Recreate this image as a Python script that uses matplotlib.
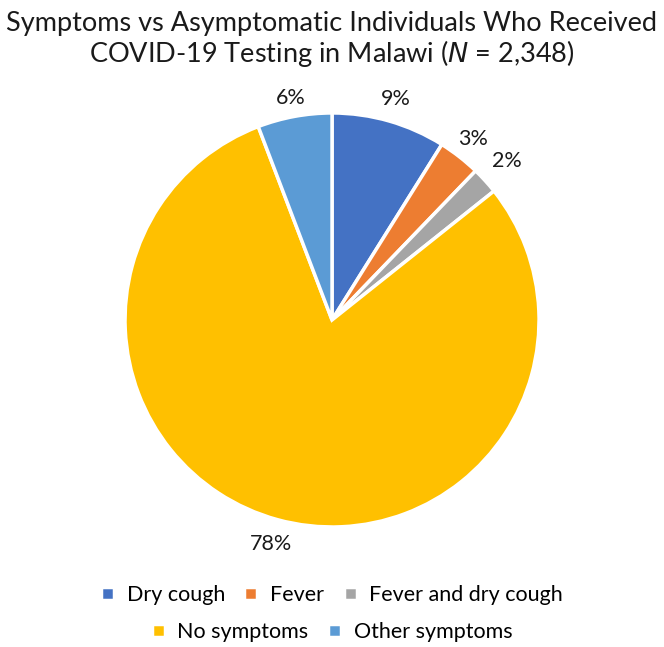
import numpy as np
import matplotlib
matplotlib.use("Agg")
from matplotlib import pyplot as plt

# donnees
categories = ["Dry cough", "Fever", "Fever and dry cough", "No symptoms", "Other symptoms"]
shares = [8.9, 3.3, 2.1, 79.9, 5.8]
labels = ["9%", "3%", "2%", "78%", "6%"]
colors = ["#4472C4", "#ED7D31", "#A5A5A5", "#FFC000", "#5B9BD5"]
label_dist = [1.11, 1.11, 1.14, 1.12, 1.09]

plt.rcParams['font.family'] = ['Lato', 'DejaVu Sans']

fig = plt.figure(figsize=(6.64, 6.47), dpi=100)
ax = fig.add_axes([0.1883, 0.1855, 0.6235, 0.6399])

wedges, _ = ax.pie(shares, colors=colors, startangle=90, counterclock=False,
                   wedgeprops=dict(edgecolor="white", linewidth=2.5))
ax.set_xlim(-1, 1)
ax.set_ylim(-1, 1)
ax.set_aspect("equal")

for w, lab, d in zip(wedges, labels, label_dist):
    ang = np.deg2rad((w.theta1 + w.theta2) / 2)
    ax.text(d * np.cos(ang), d * np.sin(ang), lab, ha="center", va="center",
            fontsize=15.5, color="#1a1a1a")

fig.text(0.5, 0.963, "Symptoms vs Asymptomatic Individuals Who Received", ha="center",
         va="center", fontsize=19.5, color="#1a1a1a")
fig.text(0.5, 0.917, "COVID-19 Testing in Malawi ($\\it{N}$ = 2,348)", ha="center",
         va="center", fontsize=19.5, color="#1a1a1a")

fig.legend(wedges[:3], categories[:3], loc="center", bbox_to_anchor=(0.5, 0.080),
           ncol=3, frameon=False, fontsize=15.5, handlelength=0.6, handleheight=0.6,
           columnspacing=0.9, handletextpad=0.6)
fig.legend(wedges[3:], categories[3:], loc="center", bbox_to_anchor=(0.5, 0.023),
           ncol=2, frameon=False, fontsize=15.5, handlelength=0.6, handleheight=0.6,
           columnspacing=0.9, handletextpad=0.6)

plt.savefig("out.png", dpi=100)
